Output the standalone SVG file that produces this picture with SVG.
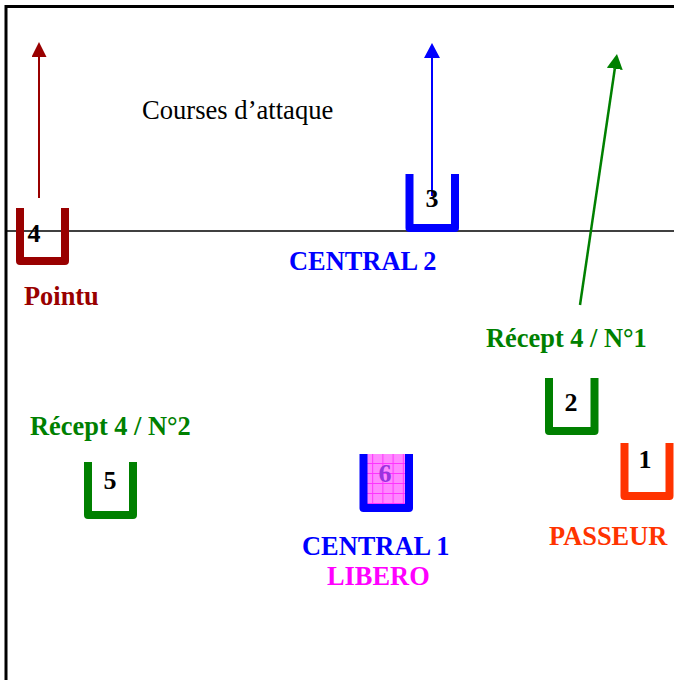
<svg xmlns="http://www.w3.org/2000/svg" width="674" height="680" viewBox="0 0 674 680">
<style>
text{font-family:"Liberation Serif","Times New Roman",serif}
.lbl{font-size:26.4px;font-weight:bold}
.num{font-size:26px;font-weight:bold;text-anchor:middle;fill:#000}
.u{fill:none;stroke-width:8;stroke-linejoin:round}
.red{fill:#990000}.blue{fill:#0000FF}.green{fill:#008000}.orange{fill:#FF3300}.mag{fill:#FF00FF}
</style>
<defs>
<marker id="hRed" markerUnits="userSpaceOnUse" markerWidth="15" markerHeight="15" refX="0" refY="7.5" orient="auto"><path d="M0,0 L15,7.5 L0,15 z" fill="#990000"/></marker>
<marker id="hBlue" markerUnits="userSpaceOnUse" markerWidth="15" markerHeight="16" refX="0" refY="8" orient="auto"><path d="M0,0 L15,8 L0,16 z" fill="#0000FF"/></marker>
<marker id="hGreen" markerUnits="userSpaceOnUse" markerWidth="15" markerHeight="16" refX="0" refY="8" orient="auto"><path d="M0,0 L15,8 L0,16 z" fill="#008000"/></marker>
<pattern id="grid" patternUnits="userSpaceOnUse" x="362" y="453" width="10.2" height="10"><rect width="10.2" height="10" fill="#FF88FF"/><path d="M0,0.5 H10.2 M0.5,0 V10" stroke="#FF33FF" stroke-width="1" fill="none"/></pattern>
</defs>
<rect width="674" height="680" fill="#fff"/>
<g id="court">
<path d="M6,680 V6.5 H674" fill="none" stroke="#000" stroke-width="3"/>
<line x1="6" y1="231" x2="674" y2="231" stroke="#000" stroke-width="1.5"/>
</g>
<g id="connectors">
<line x1="39" y1="198" x2="39" y2="57" stroke="#990000" stroke-width="2" marker-end="url(#hRed)"/>
<line x1="432" y1="196" x2="432" y2="58" stroke="#0000FF" stroke-width="2" marker-end="url(#hBlue)"/>
<line x1="580" y1="305" x2="614.8" y2="68.8" stroke="#008000" stroke-width="2.5" marker-end="url(#hGreen)"/>
</g>
<text id="title" x="142" y="119" font-size="26.6">Courses d’attaque</text>
<g id="node4">
<path class="u" d="M20,208 V261 H65 V208" stroke="#990000"/>
<text class="num" x="34" y="242">4</text>
<text class="lbl red" x="24" y="305">Pointu</text>
</g>
<g id="node3">
<path class="u" d="M409.5,174 V228 H455 V174" stroke="#0000FF"/>
<text class="num" x="432" y="207">3</text>
<text class="lbl blue" x="289" y="270">CENTRAL 2</text>
</g>
<g id="node2">
<path class="u" d="M549,378 V431 H594.5 V378" stroke="#008000"/>
<text class="num" x="571" y="411">2</text>
<text class="lbl green" x="486" y="347">Récept 4 / N°1</text>
</g>
<g id="node1">
<path class="u" d="M624.5,443 V496 H669.5 V443" stroke="#FF3300"/>
<text class="num" x="645" y="468">1</text>
<text class="lbl orange" x="549" y="545">PASSEUR</text>
</g>
<g id="node5">
<path class="u" d="M88,462 V515 H133 V462" stroke="#008000"/>
<text class="num" x="110" y="489">5</text>
<text class="lbl green" x="30" y="435">Récept 4 / N°2</text>
</g>
<g id="node6">
<rect x="366" y="454" width="40" height="51" fill="url(#grid)"/>
<path class="u" d="M363.5,454 V508 H409 V454" stroke="#0000FF"/>
<text class="num" x="385" y="482" style="fill:#9933DD">6</text>
<text class="lbl blue" x="302" y="555">CENTRAL 1</text>
<text class="lbl mag" x="327" y="585">LIBERO</text>
</g>
</svg>
